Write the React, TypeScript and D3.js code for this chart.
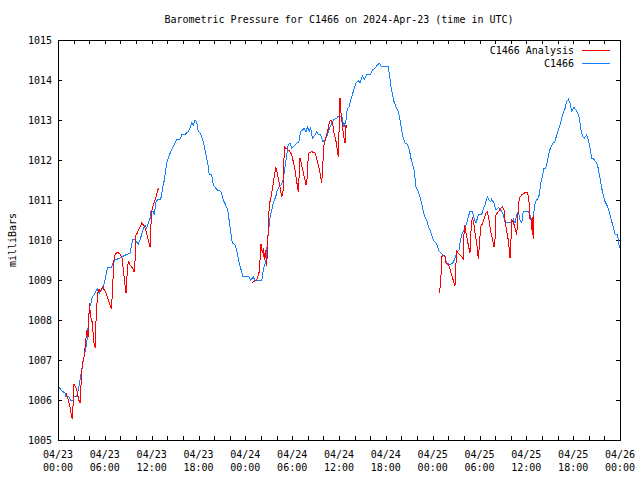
import React from "react";
import * as d3 from "d3";

const title = "Barometric Pressure for C1466 on 2024-Apr-23 (time in UTC)";
const yLabel = "milliBars";
const seriesNames = ["C1466 Analysis", "C1466"];

// hours since 2024-04-23 00:00 UTC
const stationHours = [
  0.13, 0.6, 0.9, 1.02, 1.41, 1.63, 1.96, 2.05, 2.4, 2.6, 2.73, 2.91, 3.11, 3.24, 3.37, 3.59, 3.72, 3.93, 4.01, 4.23,
  4.39, 4.61, 4.83, 5.03, 5.29, 5.51, 5.8, 6.02, 6.32, 6.88, 7.08, 7.3, 7.94, 8.58, 9.22, 9.57, 9.86, 9.99, 10.29, 10.51,
  10.8, 11.15, 11.36, 11.79, 11.91, 12.21, 12.34, 12.56, 12.81, 13.16, 13.36, 13.62, 13.93, 14.13, 14.44, 14.77, 15.08,
  15.28, 15.63, 15.85, 16.27, 16.69, 16.91, 17.13, 17.33, 17.55, 17.77, 17.97, 18.19, 18.41, 18.61, 18.83, 19.05, 19.26,
  19.38, 19.69, 19.9, 20.11, 20.41, 20.75, 20.97, 21.18, 21.48, 21.74, 22.04, 22.33, 22.68, 22.89, 23.19, 23.41, 23.66,
  24.38, 24.69, 25.02, 25.24, 26.1, 26.3, 26.65, 26.81, 26.99, 27.16, 27.38, 27.58, 27.89, 28.1, 28.35, 28.57, 28.86,
  29.08, 29.3, 29.5, 29.72, 29.94, 30.14, 30.58, 30.87, 31.09, 31.52, 31.77, 31.94, 32.19, 32.37, 32.58, 32.93, 33.14,
  33.35, 33.66, 33.91, 34.21, 34.42, 34.72, 35.06, 35.4, 35.71, 35.91, 36.35, 36.64, 36.9, 37.06, 37.32, 37.5, 37.83,
  38.14, 38.47, 38.69, 38.98, 39.24, 39.55, 39.97, 40.27, 40.61, 40.83, 41.16, 41.47, 42.32, 42.44, 42.66, 42.83, 43.05,
  43.3, 43.6, 43.81, 44.03, 44.24, 44.46, 44.75, 45.01, 45.22, 45.44, 45.65, 45.86, 46.16, 46.38, 46.59, 46.8, 47.02,
  47.24, 47.44, 47.66, 47.88, 48.08, 48.52, 48.85, 49.28, 49.58, 49.71, 49.87, 50.0, 50.22, 50.57, 50.77, 51.08, 51.37,
  51.5, 51.72, 51.93, 52.14, 52.36, 52.56, 52.78, 53.08, 53.3, 53.55, 53.85, 54.28, 54.49, 54.7, 55.0, 55.22, 55.43,
  55.56, 55.86, 56.11, 56.41, 56.72, 56.97, 57.31, 58.12, 58.33, 58.55, 58.76, 58.97, 59.19, 59.41, 59.61, 60.25, 60.47,
  60.69, 60.89, 61.02, 61.2, 61.46, 61.66, 61.84, 62.04, 62.26, 62.48, 62.69, 62.94, 63.16, 63.38, 63.67, 63.89, 64.09,
  64.31, 64.53, 64.74, 64.96, 65.17, 65.38, 65.59, 65.81, 66.11, 66.36, 66.58, 66.79, 67.0, 67.22, 67.43, 67.73, 67.94,
  68.16, 68.37, 68.67, 69.01, 69.22, 69.44, 69.66, 69.86, 70.08, 70.3, 70.5, 70.72, 70.94, 71.15, 71.36, 71.66, 71.79,
  71.92,
];
const stationPressure = [
  1006.31, 1006.21, 1006.18, 1006.08, 1006.08, 1006.0, 1006.0, 1006.08, 1006.08, 1006.25, 1006.4, 1006.6, 1006.85, 1007.0,
  1007.1, 1007.33, 1007.5, 1008.0, 1008.3, 1008.42, 1008.57, 1008.63, 1008.7, 1008.78, 1008.67, 1008.73, 1008.83, 1009.0,
  1009.3, 1009.32, 1009.43, 1009.5, 1009.55, 1009.62, 1009.67, 1010.02, 1010.02, 1009.96, 1009.9, 1010.0, 1010.2, 1010.38,
  1010.29, 1010.54, 1010.71, 1010.71, 1010.63, 1010.96, 1011.02, 1011.02, 1011.25, 1011.5, 1011.92, 1012.04, 1012.21,
  1012.33, 1012.46, 1012.52, 1012.52, 1012.63, 1012.64, 1012.71, 1012.79, 1012.92, 1012.88, 1013.0, 1012.96, 1012.71,
  1012.67, 1012.58, 1012.46, 1012.25, 1012.04, 1011.83, 1011.63, 1011.63, 1011.38, 1011.32, 1011.25, 1011.23, 1011.17,
  1011.0, 1010.88, 1010.75, 1010.33, 1009.92, 1009.88, 1009.75, 1009.46, 1009.29, 1009.1, 1009.1, 1009.0, 1009.08,
  1008.98, 1008.98, 1009.25, 1009.5, 1009.92, 1010.25, 1010.54, 1010.75, 1010.92, 1011.08, 1011.25, 1011.33, 1011.38,
  1011.5, 1011.83, 1012.13, 1012.38, 1012.43, 1012.3, 1012.33, 1012.42, 1012.46, 1012.71, 1012.79, 1012.71, 1012.83,
  1012.71, 1012.82, 1012.54, 1012.63, 1012.71, 1012.63, 1012.63, 1012.46, 1012.5, 1012.58, 1012.75, 1012.92, 1013.02,
  1013.04, 1013.1, 1013.1, 1012.82, 1013.0, 1013.29, 1013.33, 1013.5, 1013.71, 1013.92, 1013.98, 1013.93, 1014.1, 1014.02,
  1014.13, 1014.13, 1014.25, 1014.29, 1014.36, 1014.42, 1014.33, 1014.33, 1014.17, 1013.83, 1013.67, 1013.46, 1013.33,
  1013.21, 1013.0, 1012.75, 1012.54, 1012.42, 1012.4, 1012.25, 1012.04, 1011.88, 1011.71, 1011.33, 1011.21, 1011.08,
  1010.92, 1010.71, 1010.58, 1010.5, 1010.35, 1010.25, 1010.13, 1010.0, 1009.9, 1009.71, 1009.63, 1009.6, 1009.46,
  1009.38, 1009.42, 1009.38, 1009.42, 1009.5, 1009.67, 1009.75, 1009.92, 1010.13, 1010.21, 1010.33, 1010.42, 1010.58,
  1010.71, 1010.71, 1010.54, 1010.42, 1010.63, 1010.63, 1010.79, 1010.88, 1011.08, 1011.0, 1010.96, 1011.02, 1010.92,
  1010.75, 1010.81, 1010.75, 1010.67, 1010.43, 1010.43, 1010.52, 1010.43, 1010.63, 1010.71, 1010.5, 1010.43, 1010.72,
  1010.72, 1010.63, 1010.5, 1010.46, 1010.83, 1010.96, 1011.04, 1011.13, 1011.42, 1011.58, 1011.79, 1011.8, 1011.96,
  1012.21, 1012.33, 1012.42, 1012.46, 1012.63, 1012.75, 1012.88, 1013.04, 1013.17, 1013.29, 1013.46, 1013.52, 1013.42,
  1013.23, 1013.31, 1013.25, 1013.17, 1013.04, 1012.75, 1012.58, 1012.54, 1012.63, 1012.5, 1012.29, 1012.04, 1012.02,
  1011.92, 1011.79, 1011.54, 1011.29, 1011.13, 1010.96, 1010.88, 1010.79, 1010.63, 1010.46, 1010.33, 1010.15, 1010.13,
  1010.02, 1009.79,
];

// NaN marks a gap in the analysis series
const analysisHours = [
  1.02, 1.32, 1.54, 1.67, 1.83, 1.96, 2.05, 2.31, 2.47, 2.6, 2.82, 2.95, 3.11, 3.33, 3.46, 3.68, 3.88, 4.01, 4.19, 4.36,
  4.48, 4.57, 4.78, 4.87, 4.96, 5.09, 5.25, 5.38, 5.73, 5.93, 6.15, 6.37, 6.57, 6.75, 6.88, 6.96, 7.01, 7.17, 7.3, 7.56,
  7.94, 8.2, 8.46, 8.71, 8.9, 9.03, 9.22, 9.57, 9.74, 9.86, 9.99, 10.16, 10.29, 10.51, 10.72, 10.93, 11.15, 11.36, 11.57,
  11.79, 11.88, 12.0, 12.21, 12.43, 12.64, 12.85, 12.98,
  NaN,
  24.82, 25.11, 25.46, 25.79, 26.01, 26.17, 26.3, 26.43, 26.56, 26.74, 27.07, 27.25, 27.45, 27.67, 27.89, 28.02, 28.22,
  28.44, 28.66, 28.86, 28.99, 29.21, 29.5, 29.72, 29.94, 30.14, 30.36, 30.58, 30.79, 31.0, 31.13, 31.35, 31.64, 31.77,
  31.94, 32.07, 32.5, 32.93, 33.14, 33.35, 33.57, 33.78, 33.91, 34.08, 34.42, 34.63, 34.76, 34.98, 35.19, 35.36, 35.62,
  35.78, 35.91, 36.13, 36.22, 36.42, 36.6, 36.77, 36.9, 36.99,
  NaN,
  48.85, 49.03, 49.16, 49.36, 49.58, 49.71, 49.87, 50.13, 50.31, 50.51, 50.73, 50.86, 50.95, 51.08, 51.28, 51.5, 51.72,
  51.93, 52.05, 52.18, 52.36, 52.56, 52.78, 52.91, 53.08, 53.3, 53.42, 53.64, 53.85, 53.97, 54.15, 54.41, 54.61, 54.83,
  55.0, 55.22, 55.43, 55.69, 55.86, 55.98, 56.11, 56.41, 56.72, 56.97, 57.14, 57.27, 57.48, 57.69, 57.82, 57.91, 58.04,
  58.12, 58.33, 58.55, 58.76, 58.87, 58.97, 59.1, 59.41, 59.7, 59.96, 60.13, 60.25, 60.38, 60.47, 60.6, 60.69, 60.77,
  60.82, 60.89, 60.98,
];
const analysisPressure = [
  1006.18, 1006.0, 1005.83, 1005.67, 1005.52, 1006.0, 1006.4, 1006.29, 1006.21, 1006.04, 1005.92, 1006.38, 1006.88,
  1007.08, 1007.29, 1007.75, 1007.58, 1008.42, 1008.08, 1007.96, 1007.71, 1007.46, 1007.3, 1007.96, 1008.33, 1008.67,
  1008.77, 1008.71, 1008.83, 1008.75, 1008.67, 1008.54, 1008.42, 1008.33, 1008.27, 1008.75, 1008.88, 1009.5, 1009.62,
  1009.7, 1009.65, 1009.55, 1009.1, 1008.67, 1009.3, 1009.48, 1009.38, 1009.29, 1009.21, 1009.43, 1010.13, 1010.17,
  1010.25, 1010.33, 1010.42, 1010.38, 1010.29, 1010.17, 1010.0, 1009.83, 1010.25, 1010.71, 1010.88, 1011.0, 1011.13,
  1011.29, 1011.29,
  NaN,
  1008.94, 1008.96, 1009.0, 1009.21, 1009.9, 1009.67, 1009.79, 1009.5, 1009.75, 1009.35, 1010.88, 1011.04, 1011.25,
  1011.54, 1011.82, 1011.75, 1011.54, 1011.33, 1011.08, 1011.25, 1012.33, 1012.29, 1012.25, 1012.21, 1012.13, 1011.96,
  1011.75, 1011.46, 1011.21, 1012.04, 1011.96, 1011.75, 1011.5, 1011.38, 1011.56, 1012.17, 1012.21, 1012.17, 1012.04,
  1011.88, 1011.67, 1011.42, 1011.83, 1012.38, 1012.63, 1012.79, 1012.96, 1013.0, 1012.9, 1012.67, 1012.46, 1012.25,
  1012.08, 1013.54, 1013.25, 1012.88, 1012.6, 1012.42, 1012.88, 1012.8,
  NaN,
  1008.67, 1008.92, 1009.58, 1009.62, 1009.58, 1009.42, 1009.42, 1009.33, 1009.21, 1009.08, 1008.93, 1008.85, 1009.29,
  1009.73, 1009.67, 1009.62, 1009.58, 1009.52, 1010.38, 1010.29, 1010.08, 1009.88, 1009.67, 1010.21, 1010.58, 1010.38,
  1010.17, 1009.92, 1009.52, 1009.83, 1010.33, 1010.42, 1010.54, 1010.67, 1010.71, 1010.5, 1010.21, 1010.0, 1009.83,
  1010.0, 1010.63, 1010.71, 1010.79, 1010.83, 1010.75, 1010.5, 1010.21, 1010.0, 1009.75, 1009.54, 1010.04, 1010.5,
  1010.45, 1010.3, 1010.12, 1010.4, 1010.79, 1011.04, 1011.13, 1011.17, 1011.19, 1011.19, 1011.1, 1010.88, 1010.54,
  1010.5, 1010.33, 1010.13, 1010.5, 1010.63, 1010.02,
];

const yTicks = [1005, 1006, 1007, 1008, 1009, 1010, 1011, 1012, 1013, 1014, 1015];
const xLabelHours = [0, 6, 12, 18, 24, 30, 36, 42, 48, 54, 60, 66, 72];
const xTickHours = d3.range(0, 73, 2);

const W = 640;
const H = 480;
const M = { left: 58, right: 620, top: 40, bottom: 440 };
const RED = "#ff0000";
const BLUE = "#1580ff";
const FONT = "'DejaVu Sans Mono', monospace";

function labelFor(h: number): [string, string] {
  const day = 23 + Math.floor(h / 24);
  const hh = h % 24;
  return [`04/${day}`, `${String(hh).padStart(2, "0")}:00`];
}

export default function App() {
  const x = d3.scaleLinear().domain([0, 72]).range([M.left, M.right]);
  const y = d3.scaleLinear().domain([1005, 1015]).range([M.bottom, M.top]);

  const station = stationHours.map((h, i) => [h, stationPressure[i]] as [number, number]);
  const analysis = analysisHours.map((h, i) => [h, analysisPressure[i]] as [number, number]);

  const line = d3
    .line<[number, number]>()
    .defined((d) => !isNaN(d[0]) && !isNaN(d[1]))
    .x((d) => x(d[0]))
    .y((d) => y(d[1]));

  const tl = 4;

  return (
    <svg
      width={W}
      height={H}
      style={{ position: "absolute", left: 0, top: 0, background: "#fff" }}
      fontFamily={FONT}
      fontSize={10}
    >
      <rect x={0} y={0} width={W} height={H} fill="#fff" />
      <text x={339} y={23} textAnchor="middle" fill="#000">
        {title}
      </text>

      {/* y ticks */}
      {yTicks.map((v) => (
        <g key={"y" + v} shapeRendering="crispEdges">
          <line x1={M.left} x2={M.left + tl} y1={Math.round(y(v)) + 0.5} y2={Math.round(y(v)) + 0.5} stroke="#000" />
          <line x1={M.right - tl} x2={M.right} y1={Math.round(y(v)) + 0.5} y2={Math.round(y(v)) + 0.5} stroke="#000" />
          <text x={52} y={y(v) + 4} textAnchor="end" fill="#000">
            {v}
          </text>
        </g>
      ))}

      {/* x ticks */}
      {xTickHours.map((h) => (
        <g key={"x" + h} shapeRendering="crispEdges">
          <line x1={Math.round(x(h)) + 0.5} x2={Math.round(x(h)) + 0.5} y1={M.bottom} y2={M.bottom - tl} stroke="#000" />
          <line x1={Math.round(x(h)) + 0.5} x2={Math.round(x(h)) + 0.5} y1={M.top} y2={M.top + tl} stroke="#000" />
        </g>
      ))}
      {xLabelHours.map((h) => {
        const [a, b] = labelFor(h);
        return (
          <g key={"xl" + h}>
            <text x={x(h)} y={458} textAnchor="middle" fill="#000">
              {a}
            </text>
            <text x={x(h)} y={471} textAnchor="middle" fill="#000">
              {b}
            </text>
          </g>
        );
      })}

      <text transform="translate(16,240) rotate(-90)" textAnchor="middle" fill="#000">
        {yLabel}
      </text>

      {/* series */}
      <path d={line(station) || ""} fill="none" stroke={BLUE} strokeWidth={1} shapeRendering="crispEdges" />
      <path d={line(analysis) || ""} fill="none" stroke={RED} strokeWidth={1} shapeRendering="crispEdges" />

      {/* legend */}
      <text x={574} y={53.5} textAnchor="end" fill="#000">
        {seriesNames[0]}
      </text>
      <line x1={582} x2={610} y1={50.5} y2={50.5} stroke={RED} shapeRendering="crispEdges" />
      <text x={574} y={66.5} textAnchor="end" fill="#000">
        {seriesNames[1]}
      </text>
      <line x1={582} x2={610} y1={63.5} y2={63.5} stroke={BLUE} shapeRendering="crispEdges" />

      {/* border */}
      <rect
        x={M.left + 0.5}
        y={M.top + 0.5}
        width={M.right - M.left}
        height={M.bottom - M.top}
        fill="none"
        stroke="#000"
        shapeRendering="crispEdges"
      />
    </svg>
  );
}
